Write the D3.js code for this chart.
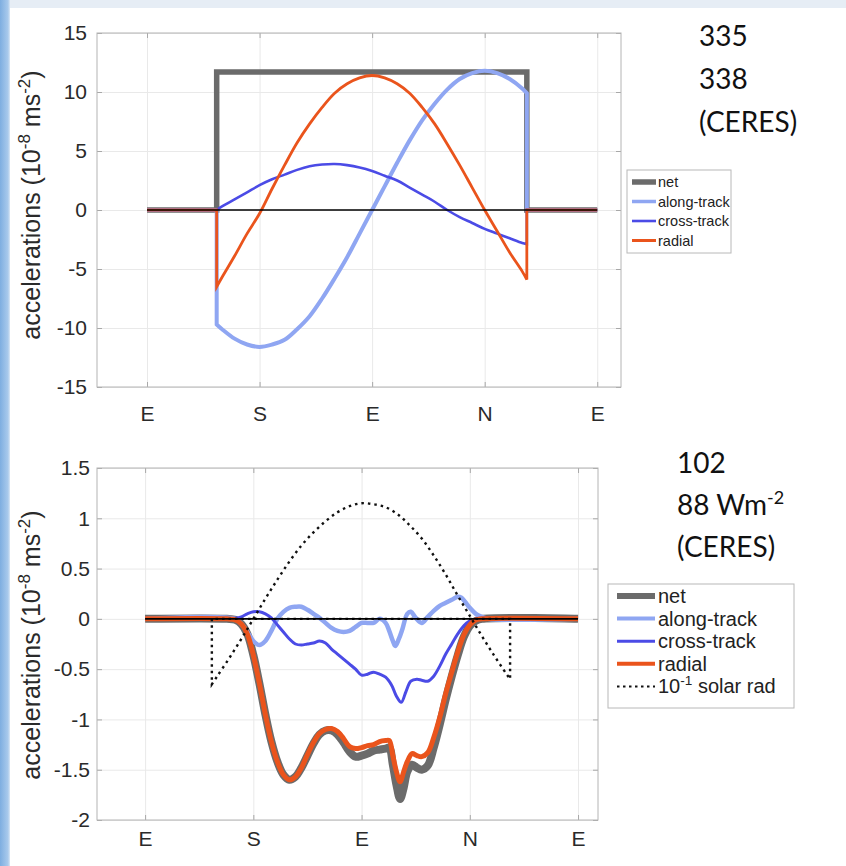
<!DOCTYPE html>
<html><head><meta charset="utf-8">
<script src="https://cdn.jsdelivr.net/npm/d3@7"></script>
<style>body{margin:0;background:#fff}svg{display:block}</style>
</head><body>
<svg id="c" width="846" height="866"></svg>
<script>
// ---------------- DATA ----------------
// orbit angle in degrees: 0=E, 90=S, 180=E, 270=N, 360=E
const xTickValues = [0, 90, 180, 270, 360];
const xTickLabels = ["E", "S", "E", "N", "E"];

// top panel (y axis 1e-8 m/s^2)
const topYTicks = [-15, -10, -5, 0, 5, 10, 15];
const topYTickLabels = ["-15", "-10", "-5", "0", "5", "10", "15"];
const topAngles = [55.7,60,70,80,90,100,110,120,130,140,150,160,170,180,190,200,210,220,230,240,250,260,270,280,290,300,303.7];
const topNetAngles = [55.7, 303.7];
const topNet = [11.7, 11.7];
const topAlong = [-9.7,-10.1,-10.9,-11.4,-11.6,-11.4,-11.0,-10.1,-9.0,-7.5,-5.8,-4.0,-2.0,0.0,2.0,4.0,5.9,7.6,9.0,10.2,11.1,11.6,11.8,11.6,11.1,10.3,9.9];
const topCross = [0.0,0.3,0.9,1.5,2.1,2.6,3.0,3.4,3.7,3.85,3.9,3.8,3.6,3.3,2.9,2.5,1.9,1.3,0.7,0.0,-0.6,-1.1,-1.6,-2.0,-2.4,-2.8,-2.9];
const topRadial = [-6.5,-5.7,-3.9,-2.0,-0.3,1.8,3.8,5.7,7.3,8.7,9.9,10.7,11.2,11.4,11.2,10.7,9.9,8.7,7.3,5.6,3.8,1.9,0.0,-1.8,-3.6,-5.2,-5.9];

// bottom panel
const botYTicks = [-2, -1.5, -1, -0.5, 0, 0.5, 1, 1.5];
const botYTickLabels = ["-2", "-1.5", "-1", "-0.5", "0", "0.5", "1", "1.5"];
const botNetX = [0,68,75,80,85,90,95,100,105,110,115,120,125,130,135,140,145,150,155,160,165,170,175,180,185,190,195,200,203,206,209,212,215,218,222,226,230,235,240,245,250,255,260,265,270,275,280,360];
const botNet = [0,0,-0.01,-0.05,-0.15,-0.36,-0.64,-0.95,-1.22,-1.42,-1.55,-1.6,-1.57,-1.48,-1.36,-1.24,-1.15,-1.11,-1.11,-1.15,-1.23,-1.32,-1.37,-1.36,-1.34,-1.31,-1.3,-1.29,-1.28,-1.45,-1.65,-1.79,-1.68,-1.52,-1.45,-1.48,-1.5,-1.46,-1.28,-1.05,-0.8,-0.57,-0.36,-0.18,-0.07,-0.02,0,0];
const botRadial = [0,0,-0.01,-0.05,-0.15,-0.36,-0.64,-0.95,-1.22,-1.42,-1.55,-1.6,-1.57,-1.48,-1.35,-1.23,-1.14,-1.1,-1.09,-1.12,-1.19,-1.27,-1.29,-1.28,-1.26,-1.25,-1.22,-1.21,-1.21,-1.36,-1.52,-1.62,-1.52,-1.42,-1.34,-1.36,-1.37,-1.33,-1.18,-0.98,-0.74,-0.53,-0.33,-0.16,-0.06,-0.01,0,0];
const botAlongX = [0,75,80,85,90,95,100,105,110,115,120,125,130,135,140,145,150,155,160,165,170,175,180,185,190,195,200,203,206,208,211,214,218,221,225,230,235,240,245,250,255,260,263,266,270,275,280,285,360];
const botAlong = [0,0,-0.05,-0.13,-0.22,-0.26,-0.22,-0.12,0.0,0.07,0.11,0.12,0.12,0.09,0.05,0.01,-0.04,-0.09,-0.12,-0.13,-0.12,-0.08,-0.04,-0.04,-0.04,0.0,-0.04,-0.12,-0.22,-0.27,-0.2,-0.1,0.05,0.07,0.01,-0.04,0.02,0.08,0.13,0.16,0.19,0.22,0.21,0.17,0.11,0.05,0.02,0,0];
const botCrossX = [0,70,75,80,85,90,95,100,105,110,115,120,125,130,135,140,145,150,155,160,165,170,175,180,185,190,195,200,205,209,213,217,221,226,230,235,240,245,250,255,260,265,270,275,360];
const botCross = [0,0,0.005,0.02,0.05,0.07,0.07,0.05,0.01,-0.06,-0.13,-0.2,-0.25,-0.26,-0.25,-0.24,-0.22,-0.24,-0.3,-0.35,-0.4,-0.45,-0.5,-0.56,-0.55,-0.53,-0.55,-0.58,-0.66,-0.77,-0.83,-0.72,-0.62,-0.6,-0.61,-0.62,-0.57,-0.47,-0.35,-0.25,-0.15,-0.07,-0.02,0,0];
const botSolarX = [55.5,60,70,80,90,100,110,120,130,140,150,160,170,180,190,200,210,220,230,240,250,260,270,280,290,300,303.5];
const botSolar = [-0.65,-0.57,-0.39,-0.20,0.0,0.20,0.39,0.57,0.73,0.86,0.97,1.06,1.12,1.15,1.14,1.11,1.04,0.93,0.80,0.63,0.44,0.23,0.03,-0.17,-0.36,-0.54,-0.60];

const legendLabels = ["net", "along-track", "cross-track", "radial"];
const topNotes = ["335", "338", "(CERES)"];
const botNotes = ["102", "88 Wm", "(CERES)"];

// ---------------- STYLE ----------------
const C = {net:"#6b6b6b", along:"#8fa6f2", cross:"#4b4be6", radial:"#ea541c", axis:"#b4b4b4", grid:"#e9e9e9", text:"#2a2a2a"};
const FONT = "'Liberation Sans', Arial, Helvetica, sans-serif";

const svg = d3.select("#c");
const defs = svg.append("defs");
const lg = defs.append("linearGradient").attr("id","lstrip").attr("x1","0").attr("x2","1");
lg.append("stop").attr("offset","0").attr("stop-color","#7eaee0");
lg.append("stop").attr("offset","0.8").attr("stop-color","#a9caec");
lg.append("stop").attr("offset","1").attr("stop-color","#dbe8f5");
svg.append("rect").attr("width",846).attr("height",866).attr("fill","#fff");
svg.append("rect").attr("x",0).attr("y",0).attr("width",846).attr("height",8).attr("fill","#e6edf5");
svg.append("rect").attr("x",0).attr("y",0).attr("width",10).attr("height",866).attr("fill","url(#lstrip)");

function mkLines(x, y) {
  const lin = d3.line().x(d => x(d[0])).y(d => y(d[1]));
  const cur = d3.line().x(d => x(d[0])).y(d => y(d[1])).curve(d3.curveCatmullRom.alpha(0.5));
  return {lin, cur};
}
function zip(a, b) { return a.map((v, i) => [v, b[i]]); }

function panel(o) {
  const x = d3.scaleLinear().domain(o.xdom).range([o.left, o.right]);
  const y = d3.scaleLinear().domain(o.ydom).range([o.bottom, o.top]);
  const g = svg.append("g");
  const w = o.right - o.left, h = o.bottom - o.top;
  // grid
  g.append("g").attr("transform", `translate(0,${o.bottom})`)
    .call(d3.axisBottom(x).tickValues(xTickValues).tickSize(-h).tickFormat(""))
    .call(s => { s.select(".domain").remove(); s.selectAll("line").attr("stroke", C.grid); });
  g.append("g").attr("transform", `translate(${o.left},0)`)
    .call(d3.axisLeft(y).tickValues(o.yticks).tickSize(-w).tickFormat(""))
    .call(s => { s.select(".domain").remove(); s.selectAll("line").attr("stroke", C.grid); });
  // axes with labels & inner ticks
  const ax = g.append("g").attr("transform", `translate(0,${o.bottom})`)
    .call(d3.axisBottom(x).tickValues(xTickValues).tickFormat((d, i) => xTickLabels[i]).tickSizeInner(-5).tickSizeOuter(0).tickPadding(o.xpad));
  const ay = g.append("g").attr("transform", `translate(${o.left},0)`)
    .call(d3.axisLeft(y).tickValues(o.yticks).tickFormat((d, i) => o.ylabels[i]).tickSizeInner(-5).tickSizeOuter(0).tickPadding(o.ypad));
  const at = g.append("g").attr("transform", `translate(0,${o.top})`)
    .call(d3.axisTop(x).tickValues(xTickValues).tickFormat("").tickSizeInner(-5).tickSizeOuter(0));
  const ar = g.append("g").attr("transform", `translate(${o.right},0)`)
    .call(d3.axisRight(y).tickValues(o.yticks).tickFormat("").tickSizeInner(-5).tickSizeOuter(0));
  [ax, ay, at, ar].forEach(a => {
    a.select(".domain").remove();
    a.selectAll("line").attr("stroke", "#a8a8a8");
    a.selectAll("text").attr("fill", C.text).style("font-family", FONT).style("font-size", o.tickFont + "px");
  });
  g.append("rect").attr("x", o.left).attr("y", o.top).attr("width", w).attr("height", h)
    .attr("fill", "none").attr("stroke", C.axis).attr("stroke-width", 1);
  // y label
  const yl = g.append("text").attr("transform", `translate(${o.ylx},${o.yly}) rotate(-90)`)
    .attr("text-anchor", "middle").attr("fill", C.text).style("font-family", FONT).style("font-size", o.ylFont + "px");
  const sup = o.ylFont * 0.68;
  yl.append("tspan").text("accelerations (10");
  yl.append("tspan").attr("dy", -o.ylFont * 0.42).style("font-size", sup + "px").text("-8");
  yl.append("tspan").attr("dy", o.ylFont * 0.42).text(" ms");
  yl.append("tspan").attr("dy", -o.ylFont * 0.42).style("font-size", sup + "px").text("-2");
  yl.append("tspan").attr("dy", o.ylFont * 0.42).text(")");
  return {x, y, g};
}

function edgePath(L, a, v) {
  // zero before/after the sunlit arc, vertical jumps at the eclipse edges
  const a0 = a[0], a1 = a[a.length - 1];
  const lead = [[0, 0], [a0, 0]];
  const tail = [[a1, 0], [360, 0]];
  const mid = zip(a, v);
  return L.lin(lead) + L.cur(mid).replace(/^M/, "L") + L.lin(tail).replace(/^M/, "L");
}

// ---------------- TOP PANEL ----------------
const T = panel({xdom:[-40, 379], ydom:[-15, 15], left:97, right:621, top:33, bottom:387,
  yticks: topYTicks, ylabels: topYTickLabels, tickFont: 21, xpad: 19, ypad: 10,
  ylx: 40, yly: 205, ylFont: 25});
{
  const L = mkLines(T.x, T.y);
  const lay = T.g.append("g").attr("fill", "none");
  lay.append("path").attr("d", L.lin([[0,0],[topNetAngles[0],0],[topNetAngles[0],topNet[0]],[topNetAngles[1],topNet[1]],[topNetAngles[1],0],[360,0]]))
    .attr("stroke", C.net).attr("stroke-width", 5.5).attr("stroke-linejoin", "miter");
  lay.append("path").attr("d", edgePath(L, topAngles, topAlong)).attr("stroke", C.along).attr("stroke-width", 4);
  lay.append("path").attr("d", edgePath(L, topAngles, topCross)).attr("stroke", C.cross).attr("stroke-width", 2.6);
  lay.append("path").attr("d", edgePath(L, topAngles, topRadial)).attr("stroke", C.radial).attr("stroke-width", 2.8);
  lay.append("path").attr("d", L.lin([[0,0],[360,0]])).attr("stroke", "#000").attr("stroke-width", 1.6);
}

// ---------------- BOTTOM PANEL ----------------
const B = panel({xdom:[-40, 376.6], ydom:[-2, 1.5], left:97, right:598, top:468, bottom:820,
  yticks: botYTicks, ylabels: botYTickLabels, tickFont: 21, xpad: 11, ypad: 7,
  ylx: 40, yly: 645, ylFont: 25});
{
  const L = mkLines(B.x, B.y);
  const lay = B.g.append("g").attr("fill", "none");
  lay.append("path").attr("d", L.cur(zip(botNetX, botNet))).attr("stroke", C.net).attr("stroke-width", 8);
  lay.append("path").attr("d", L.cur(zip(botAlongX, botAlong))).attr("stroke", C.along).attr("stroke-width", 4.5);
  lay.append("path").attr("d", L.cur(zip(botCrossX, botCross))).attr("stroke", C.cross).attr("stroke-width", 3);
  lay.append("path").attr("d", L.cur(zip(botNetX, botRadial))).attr("stroke", C.radial).attr("stroke-width", 5);
  const sa = botSolarX, s0 = sa[0], s1 = sa[sa.length - 1];
  lay.append("path").attr("d", L.lin([[s0, 0]]) + L.cur(zip(botSolarX, botSolar)).replace(/^M/, "L") + L.lin([[s1, 0]]).replace(/^M/, "L"))
    .attr("stroke", "#111").attr("stroke-width", 2.4).attr("stroke-dasharray", "2.5,4");
  lay.append("path").attr("d", L.lin([[0,0],[360,0]])).attr("stroke", "#000").attr("stroke-width", 1.6);
}

// ---------------- LEGENDS ----------------
function legend(o) {
  const g = svg.append("g");
  g.append("rect").attr("x", o.x).attr("y", o.y).attr("width", o.w).attr("height", o.h)
    .attr("fill", "#fff").attr("stroke", "#b8b8b8").attr("stroke-width", 1);
  o.items.forEach((it, i) => {
    const yy = o.y0 + i * o.dy;
    g.append("line").attr("x1", o.lx0).attr("x2", o.lx1).attr("y1", yy).attr("y2", yy)
      .attr("stroke", it.c).attr("stroke-width", it.w).attr("stroke-dasharray", it.dash || null);
    const t = g.append("text").attr("x", o.tx).attr("y", yy).attr("dy", "0.35em").attr("fill", "#222")
      .style("font-family", FONT).style("font-size", o.font + "px");
    if (it.sup) {
      t.append("tspan").text(it.pre);
      t.append("tspan").attr("dy", -o.font * 0.4).style("font-size", (o.font * 0.68) + "px").text(it.sup);
      t.append("tspan").attr("dy", o.font * 0.4).text(it.post);
    } else t.text(it.label);
  });
}
legend({x:627, y:170, w:104, h:83, y0:182, dy:19.5, lx0:632, lx1:656, tx:658, font:14.5,
  items:[{label:legendLabels[0], c:C.net, w:5.5},{label:legendLabels[1], c:C.along, w:3.5},
         {label:legendLabels[2], c:C.cross, w:2.6},{label:legendLabels[3], c:C.radial, w:3}]});
legend({x:608, y:584, w:186, h:124, y0:596, dy:22.6, lx0:617, lx1:655, tx:658, font:20,
  items:[{label:legendLabels[0], c:C.net, w:6},{label:legendLabels[1], c:C.along, w:4},
         {label:legendLabels[2], c:C.cross, w:3},{label:legendLabels[3], c:C.radial, w:4},
         {sup:"-1", pre:"10", post:" solar rad", c:"#111", w:2, dash:"2.5,3.5"}]});

// ---------------- NOTES ----------------
const NF = "Lato, 'Open Sans', sans-serif";
topNotes.forEach((s, i) => {
  svg.append("text").attr("x", 699).attr("y", 46 + i * 43).attr("fill", "#111")
    .style("font-family", NF).style("font-size", "28px").text(s);
});
botNotes.forEach((s, i) => {
  const t = svg.append("text").attr("x", 677).attr("y", 473 + i * 42).attr("fill", "#111")
    .style("font-family", NF).style("font-size", "28px").text(s);
  if (i === 1) t.append("tspan").attr("dy", -11).style("font-size", "18px").text("-2");
});
</script>
</body></html>
